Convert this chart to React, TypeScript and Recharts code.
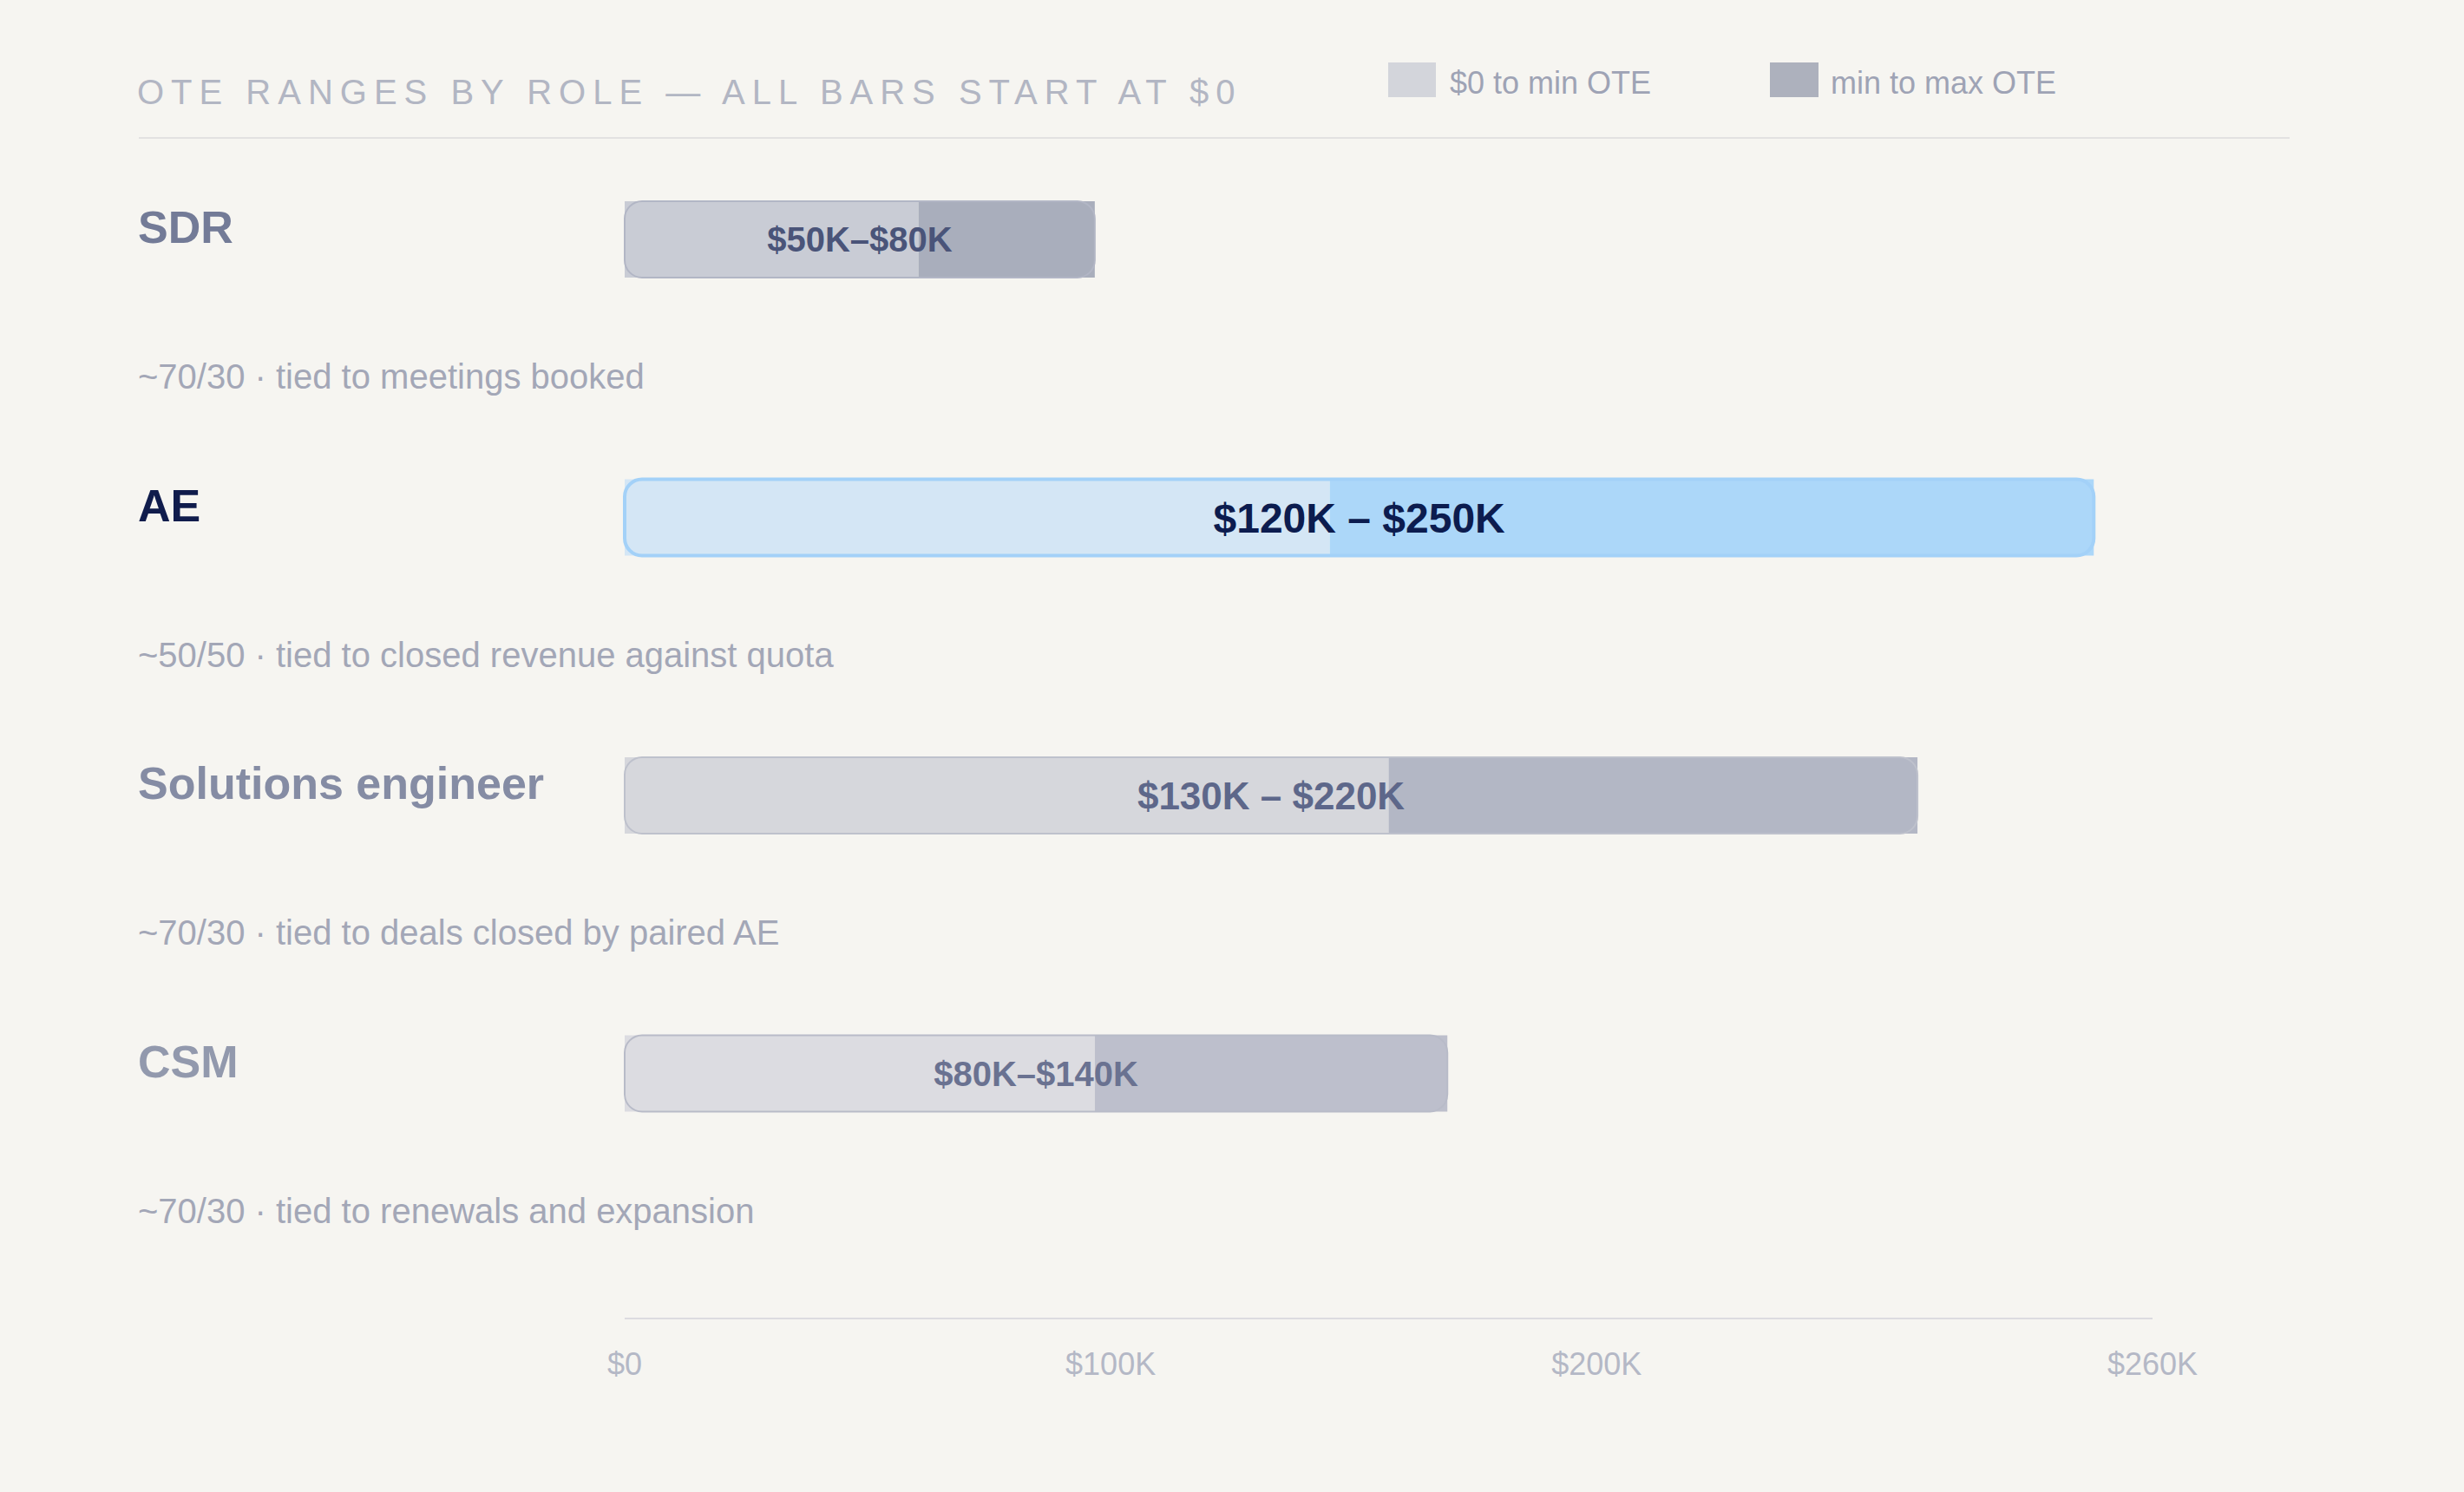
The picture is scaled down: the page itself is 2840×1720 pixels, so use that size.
import React from 'react';
import { BarChart, Bar, XAxis, YAxis, Cell, LabelList } from 'recharts';

// ---------- data ----------
const ROLES = ['SDR', 'AE', 'Solutions engineer', 'CSM'];
const MIN_OTE = [50000, 120000, 130000, 80000];
const MAX_OTE = [80000, 250000, 220000, 140000];
const RANGE_LABELS = ['$50K–$80K', '$120K – $250K', '$130K – $220K', '$80K–$140K'];
const NOTES = [
  '~70/30 · tied to meetings booked',
  '~50/50 · tied to closed revenue against quota',
  '~70/30 · tied to deals closed by paired AE',
  '~70/30 · tied to renewals and expansion',
];
const X_DOMAIN = [0, 260000];
const TICK_VALUES = [0, 82700, 165400, 260000];
const TICK_LABELS = ['$0', '$100K', '$200K', '$260K'];
const LEGEND_LABELS = ['$0 to min OTE', 'min to max OTE'];
const TITLE = 'OTE RANGES BY ROLE — ALL BARS START AT $0';

// ---------- styles ----------
const FONT = '"Liberation Sans", Arial, Helvetica, sans-serif';
const BG = '#f6f5f1';
const MIN_FILLS = ['#c9ccd5', '#d4e6f5', '#d6d7dc', '#dcdce1'];
const SPAN_FILLS = ['#a9aebc', '#acd7f9', '#b3b7c5', '#bdbfcc'];
const OUTLINE_STROKES = ['#b2b6c5', '#a3d1f8', '#bec1cc', '#b8bbc8'];
const OUTLINE_WIDTHS = [2, 4, 2, 2];
const LABEL_COLORS = ['#4a5479', '#0c1c4f', '#5d678a', '#6a7291'];
const LABEL_SIZES = [40, 48, 44, 40];
const ROLE_COLORS = ['#737b97', '#101c4c', '#858ca4', '#9299ad'];
const NOTE_COLOR = '#a3a7b7';
const LEGEND_SWATCHES = ['#d3d5db', '#adb1bd'];

const data = ROLES.map((role, i) => ({
  role,
  min: MIN_OTE[i],
  span: MAX_OTE[i] - MIN_OTE[i],
  max: MAX_OTE[i],
}));

const LABEL_X = 159;
const BAR_SIZE = 88;

const RoleTick = (props: any) => {
  const { y, payload } = props;
  const i = ROLES.indexOf(payload.value);
  return (
    <g>
      <text x={LABEL_X} y={y + 4} fontSize={52} fontWeight={700} fill={ROLE_COLORS[i]} fontFamily={FONT}>
        {payload.value}
      </text>
      <text x={LABEL_X} y={y + 172} fontSize={40} fill={NOTE_COLOR} fontFamily={FONT}>
        {NOTES[i]}
      </text>
    </g>
  );
};

const ValueTick = (props: any) => {
  const { x, y, payload } = props;
  const i = TICK_VALUES.indexOf(payload.value);
  return (
    <text x={x} y={y + 65} textAnchor="middle" fontSize={36} fill="#b4b8c6" fontFamily={FONT}>
      {TICK_LABELS[i]}
    </text>
  );
};

const RangeLabel = (props: any) => {
  const vb = props.viewBox || props;
  const x = vb.x ?? props.x;
  const y = vb.y ?? props.y;
  const width = vb.width ?? props.width;
  const height = vb.height ?? props.height;
  const index = props.index;
  const fs = LABEL_SIZES[index];
  return (
    <text
      x={x + width / 2}
      y={y + height / 2 + fs * 0.36}
      textAnchor="middle"
      fontSize={fs}
      fontWeight={700}
      fill={LABEL_COLORS[index]}
      fontFamily={FONT}
    >
      {RANGE_LABELS[index]}
    </text>
  );
};

export default function App() {
  return (
    <div
      style={{
        position: 'absolute',
        left: 0,
        top: 0,
        width: 2840,
        height: 1720,
        background: BG,
        overflow: 'hidden',
      }}
    >
      <BarChart
        width={2840}
        height={1720}
        data={data}
        layout="vertical"
        margin={{ top: 116, right: 359, bottom: 120, left: 0 }}
        barGap={-BAR_SIZE}
        barSize={BAR_SIZE}
      >
        <XAxis
          type="number"
          domain={X_DOMAIN}
          ticks={TICK_VALUES}
          interval={0}
          height={80}
          tickLine={false}
          tickSize={0}
          tickMargin={0}
          axisLine={{ stroke: '#dcdbe0', strokeWidth: 2 }}
          tick={<ValueTick />}
        />
        <YAxis
          type="category"
          dataKey="role"
          width={720}
          interval={0}
          axisLine={false}
          tickLine={false}
          padding={{ top: 0, bottom: 122 }}
          tick={<RoleTick />}
        />
        <Bar dataKey="min" stackId="a" isAnimationActive={false}>
          {data.map((d, i) => (
            <Cell key={d.role} fill={MIN_FILLS[i]} />
          ))}
        </Bar>
        <Bar dataKey="span" stackId="a" isAnimationActive={false}>
          {data.map((d, i) => (
            <Cell key={d.role} fill={SPAN_FILLS[i]} />
          ))}
        </Bar>
        <Bar dataKey="max" stackId="outline" fill="none" radius={20} isAnimationActive={false}>
          {data.map((d, i) => (
            <Cell key={d.role} fill="none" stroke={OUTLINE_STROKES[i]} strokeWidth={OUTLINE_WIDTHS[i]} />
          ))}
          <LabelList dataKey="max" content={<RangeLabel />} />
        </Bar>
      </BarChart>
      <svg
        width={2840}
        height={1720}
        style={{ position: 'absolute', left: 0, top: 0, pointerEvents: 'none' }}
      >
        <text x={158} y={120} fontSize={40} letterSpacing={8} fill="#b2b6c3" fontFamily={FONT}>
          {TITLE}
        </text>
        <line x1={160} x2={2639} y1={159} y2={159} stroke="#e2e1e1" strokeWidth={2} />
        <rect x={1600} y={72} width={55} height={40} fill={LEGEND_SWATCHES[0]} />
        <text x={1671} y={108} fontSize={36} fill="#9ea3b5" fontFamily={FONT}>
          {LEGEND_LABELS[0]}
        </text>
        <rect x={2040} y={72} width={56} height={40} fill={LEGEND_SWATCHES[1]} />
        <text x={2110} y={108} fontSize={36} fill="#9ea3b5" fontFamily={FONT}>
          {LEGEND_LABELS[1]}
        </text>
      </svg>
    </div>
  );
}
